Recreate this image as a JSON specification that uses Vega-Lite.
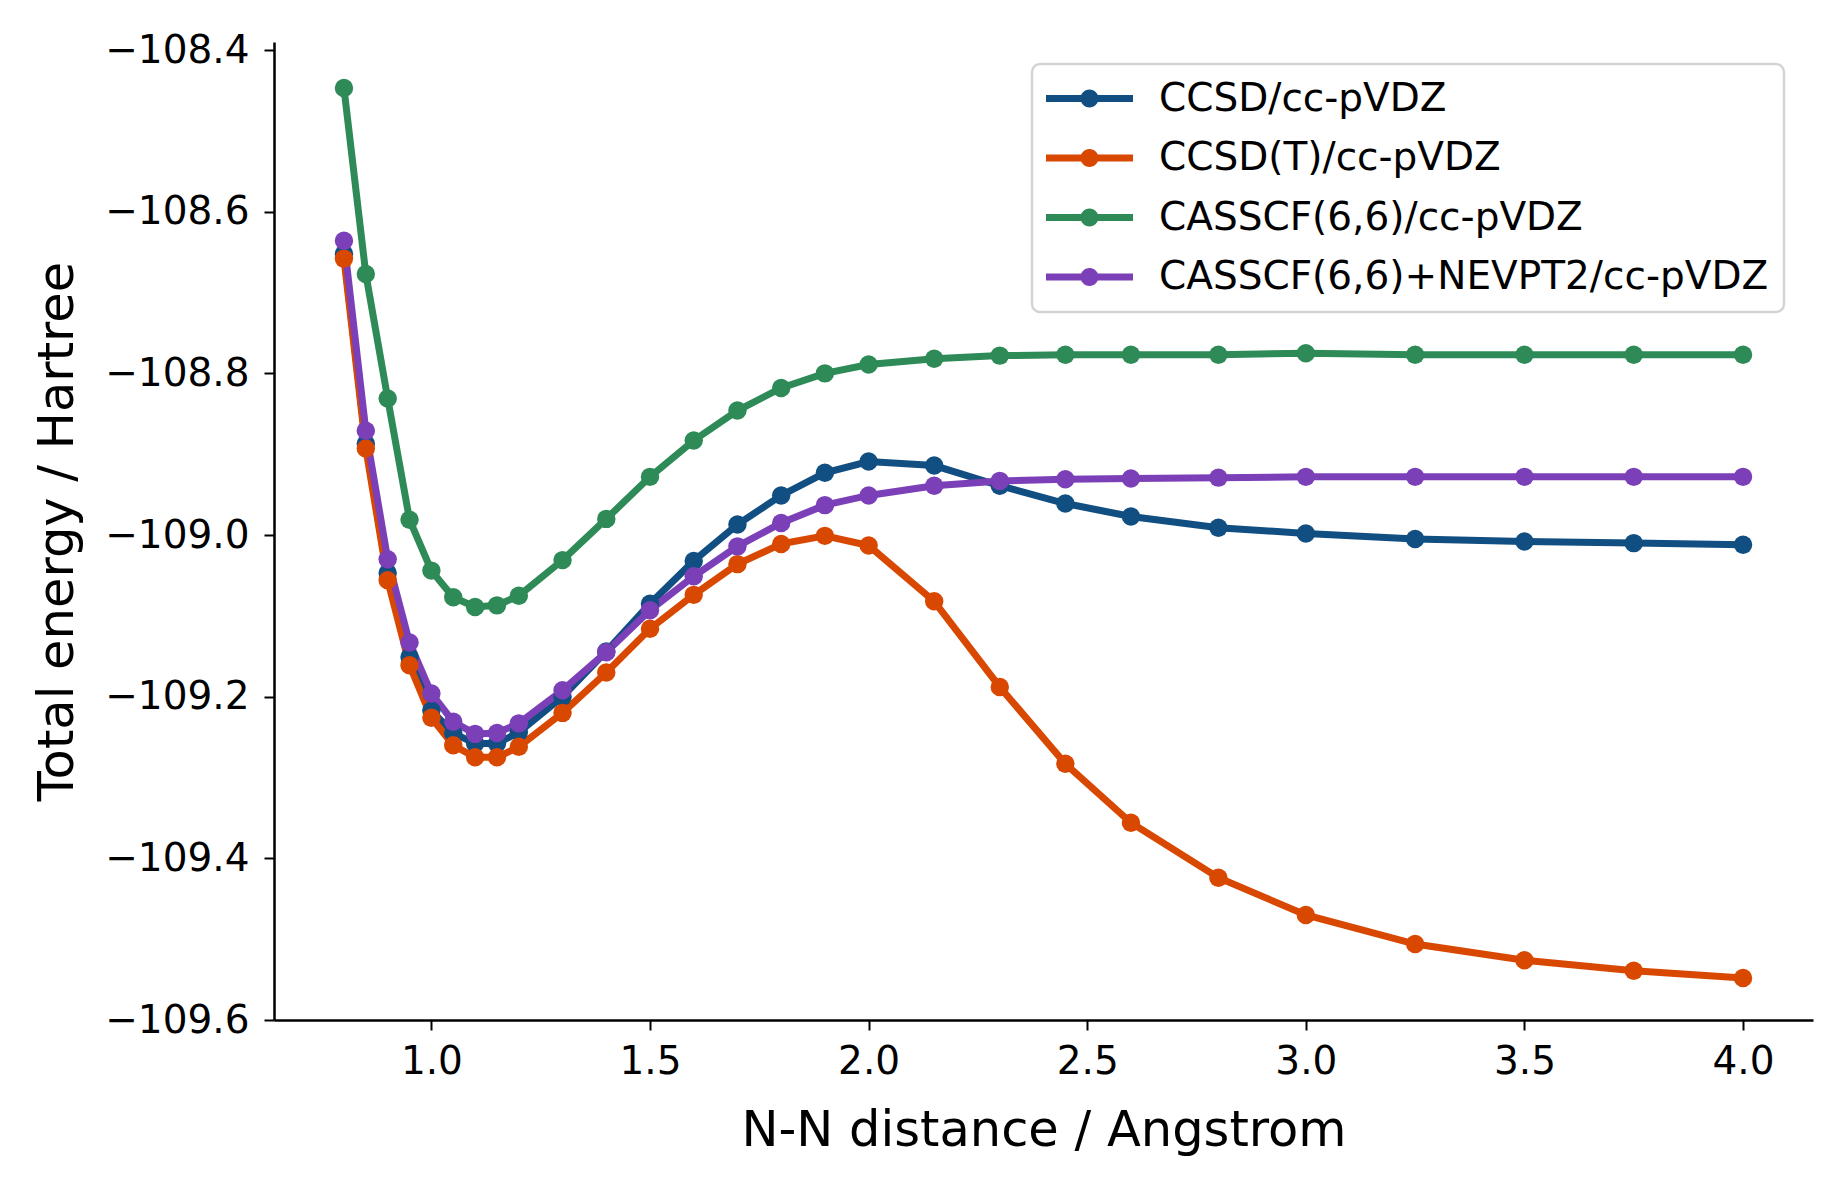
{
  "$schema": "https://vega.github.io/schema/vega-lite/v6.json",
  "width": 1539,
  "height": 978,
  "autosize": {"type": "none"},
  "padding": {"left": 274, "top": 42, "right": 35, "bottom": 168},
  "background": "white",
  "config": {
    "view": {"stroke": null},
    "font": "DejaVu Sans",
    "axis": {
      "labelFont": "DejaVu Sans",
      "titleFont": "DejaVu Sans",
      "labelFontSize": 39,
      "titleFontSize": 49.5,
      "titleFontWeight": "normal",
      "labelColor": "black",
      "titleColor": "black",
      "domainColor": "black",
      "domainWidth": 2.5,
      "tickColor": "black",
      "tickWidth": 2,
      "tickSize": 10,
      "grid": false
    },
    "legend": {
      "labelFont": "DejaVu Sans",
      "labelFontSize": 39,
      "labelColor": "black"
    }
  },
  "data": {
    "values": [
      {"d": 0.8, "E": -108.652, "m": "CCSD/cc-pVDZ"},
      {"d": 0.85, "E": -108.887, "m": "CCSD/cc-pVDZ"},
      {"d": 0.9, "E": -109.047, "m": "CCSD/cc-pVDZ"},
      {"d": 0.95, "E": -109.151, "m": "CCSD/cc-pVDZ"},
      {"d": 1.0, "E": -109.217, "m": "CCSD/cc-pVDZ"},
      {"d": 1.05, "E": -109.245, "m": "CCSD/cc-pVDZ"},
      {"d": 1.1, "E": -109.258, "m": "CCSD/cc-pVDZ"},
      {"d": 1.15, "E": -109.258, "m": "CCSD/cc-pVDZ"},
      {"d": 1.2, "E": -109.244, "m": "CCSD/cc-pVDZ"},
      {"d": 1.3, "E": -109.2, "m": "CCSD/cc-pVDZ"},
      {"d": 1.4, "E": -109.144, "m": "CCSD/cc-pVDZ"},
      {"d": 1.5, "E": -109.085, "m": "CCSD/cc-pVDZ"},
      {"d": 1.6, "E": -109.032, "m": "CCSD/cc-pVDZ"},
      {"d": 1.7, "E": -108.987, "m": "CCSD/cc-pVDZ"},
      {"d": 1.8, "E": -108.951, "m": "CCSD/cc-pVDZ"},
      {"d": 1.9, "E": -108.923, "m": "CCSD/cc-pVDZ"},
      {"d": 2.0, "E": -108.909, "m": "CCSD/cc-pVDZ"},
      {"d": 2.15, "E": -108.914, "m": "CCSD/cc-pVDZ"},
      {"d": 2.3, "E": -108.939, "m": "CCSD/cc-pVDZ"},
      {"d": 2.45, "E": -108.961, "m": "CCSD/cc-pVDZ"},
      {"d": 2.6, "E": -108.977, "m": "CCSD/cc-pVDZ"},
      {"d": 2.8, "E": -108.991, "m": "CCSD/cc-pVDZ"},
      {"d": 3.0, "E": -108.998, "m": "CCSD/cc-pVDZ"},
      {"d": 3.25, "E": -109.005, "m": "CCSD/cc-pVDZ"},
      {"d": 3.5, "E": -109.008, "m": "CCSD/cc-pVDZ"},
      {"d": 3.75, "E": -109.01, "m": "CCSD/cc-pVDZ"},
      {"d": 4.0, "E": -109.012, "m": "CCSD/cc-pVDZ"},
      {"d": 0.8, "E": -108.658, "m": "CCSD(T)/cc-pVDZ"},
      {"d": 0.85, "E": -108.893, "m": "CCSD(T)/cc-pVDZ"},
      {"d": 0.9, "E": -109.056, "m": "CCSD(T)/cc-pVDZ"},
      {"d": 0.95, "E": -109.161, "m": "CCSD(T)/cc-pVDZ"},
      {"d": 1.0, "E": -109.226, "m": "CCSD(T)/cc-pVDZ"},
      {"d": 1.05, "E": -109.26, "m": "CCSD(T)/cc-pVDZ"},
      {"d": 1.1, "E": -109.275, "m": "CCSD(T)/cc-pVDZ"},
      {"d": 1.15, "E": -109.275, "m": "CCSD(T)/cc-pVDZ"},
      {"d": 1.2, "E": -109.262, "m": "CCSD(T)/cc-pVDZ"},
      {"d": 1.3, "E": -109.22, "m": "CCSD(T)/cc-pVDZ"},
      {"d": 1.4, "E": -109.17, "m": "CCSD(T)/cc-pVDZ"},
      {"d": 1.5, "E": -109.116, "m": "CCSD(T)/cc-pVDZ"},
      {"d": 1.6, "E": -109.074, "m": "CCSD(T)/cc-pVDZ"},
      {"d": 1.7, "E": -109.036, "m": "CCSD(T)/cc-pVDZ"},
      {"d": 1.8, "E": -109.011, "m": "CCSD(T)/cc-pVDZ"},
      {"d": 1.9, "E": -109.001, "m": "CCSD(T)/cc-pVDZ"},
      {"d": 2.0, "E": -109.013, "m": "CCSD(T)/cc-pVDZ"},
      {"d": 2.15, "E": -109.082, "m": "CCSD(T)/cc-pVDZ"},
      {"d": 2.3, "E": -109.188, "m": "CCSD(T)/cc-pVDZ"},
      {"d": 2.45, "E": -109.283, "m": "CCSD(T)/cc-pVDZ"},
      {"d": 2.6, "E": -109.356, "m": "CCSD(T)/cc-pVDZ"},
      {"d": 2.8, "E": -109.424, "m": "CCSD(T)/cc-pVDZ"},
      {"d": 3.0, "E": -109.47, "m": "CCSD(T)/cc-pVDZ"},
      {"d": 3.25, "E": -109.506, "m": "CCSD(T)/cc-pVDZ"},
      {"d": 3.5, "E": -109.526, "m": "CCSD(T)/cc-pVDZ"},
      {"d": 3.75, "E": -109.539, "m": "CCSD(T)/cc-pVDZ"},
      {"d": 4.0, "E": -109.548, "m": "CCSD(T)/cc-pVDZ"},
      {"d": 0.8, "E": -108.447, "m": "CASSCF(6,6)/cc-pVDZ"},
      {"d": 0.85, "E": -108.677, "m": "CASSCF(6,6)/cc-pVDZ"},
      {"d": 0.9, "E": -108.831, "m": "CASSCF(6,6)/cc-pVDZ"},
      {"d": 0.95, "E": -108.981, "m": "CASSCF(6,6)/cc-pVDZ"},
      {"d": 1.0, "E": -109.044, "m": "CASSCF(6,6)/cc-pVDZ"},
      {"d": 1.05, "E": -109.077, "m": "CASSCF(6,6)/cc-pVDZ"},
      {"d": 1.1, "E": -109.089, "m": "CASSCF(6,6)/cc-pVDZ"},
      {"d": 1.15, "E": -109.087, "m": "CASSCF(6,6)/cc-pVDZ"},
      {"d": 1.2, "E": -109.075, "m": "CASSCF(6,6)/cc-pVDZ"},
      {"d": 1.3, "E": -109.031, "m": "CASSCF(6,6)/cc-pVDZ"},
      {"d": 1.4, "E": -108.98, "m": "CASSCF(6,6)/cc-pVDZ"},
      {"d": 1.5, "E": -108.928, "m": "CASSCF(6,6)/cc-pVDZ"},
      {"d": 1.6, "E": -108.883, "m": "CASSCF(6,6)/cc-pVDZ"},
      {"d": 1.7, "E": -108.846, "m": "CASSCF(6,6)/cc-pVDZ"},
      {"d": 1.8, "E": -108.818, "m": "CASSCF(6,6)/cc-pVDZ"},
      {"d": 1.9, "E": -108.8, "m": "CASSCF(6,6)/cc-pVDZ"},
      {"d": 2.0, "E": -108.789, "m": "CASSCF(6,6)/cc-pVDZ"},
      {"d": 2.15, "E": -108.782, "m": "CASSCF(6,6)/cc-pVDZ"},
      {"d": 2.3, "E": -108.778, "m": "CASSCF(6,6)/cc-pVDZ"},
      {"d": 2.45, "E": -108.777, "m": "CASSCF(6,6)/cc-pVDZ"},
      {"d": 2.6, "E": -108.777, "m": "CASSCF(6,6)/cc-pVDZ"},
      {"d": 2.8, "E": -108.777, "m": "CASSCF(6,6)/cc-pVDZ"},
      {"d": 3.0, "E": -108.775, "m": "CASSCF(6,6)/cc-pVDZ"},
      {"d": 3.25, "E": -108.777, "m": "CASSCF(6,6)/cc-pVDZ"},
      {"d": 3.5, "E": -108.777, "m": "CASSCF(6,6)/cc-pVDZ"},
      {"d": 3.75, "E": -108.777, "m": "CASSCF(6,6)/cc-pVDZ"},
      {"d": 4.0, "E": -108.777, "m": "CASSCF(6,6)/cc-pVDZ"},
      {"d": 0.8, "E": -108.636, "m": "CASSCF(6,6)+NEVPT2/cc-pVDZ"},
      {"d": 0.85, "E": -108.871, "m": "CASSCF(6,6)+NEVPT2/cc-pVDZ"},
      {"d": 0.9, "E": -109.03, "m": "CASSCF(6,6)+NEVPT2/cc-pVDZ"},
      {"d": 0.95, "E": -109.133, "m": "CASSCF(6,6)+NEVPT2/cc-pVDZ"},
      {"d": 1.0, "E": -109.196, "m": "CASSCF(6,6)+NEVPT2/cc-pVDZ"},
      {"d": 1.05, "E": -109.231, "m": "CASSCF(6,6)+NEVPT2/cc-pVDZ"},
      {"d": 1.1, "E": -109.246, "m": "CASSCF(6,6)+NEVPT2/cc-pVDZ"},
      {"d": 1.15, "E": -109.245, "m": "CASSCF(6,6)+NEVPT2/cc-pVDZ"},
      {"d": 1.2, "E": -109.233, "m": "CASSCF(6,6)+NEVPT2/cc-pVDZ"},
      {"d": 1.3, "E": -109.192, "m": "CASSCF(6,6)+NEVPT2/cc-pVDZ"},
      {"d": 1.4, "E": -109.145, "m": "CASSCF(6,6)+NEVPT2/cc-pVDZ"},
      {"d": 1.5, "E": -109.093, "m": "CASSCF(6,6)+NEVPT2/cc-pVDZ"},
      {"d": 1.6, "E": -109.051, "m": "CASSCF(6,6)+NEVPT2/cc-pVDZ"},
      {"d": 1.7, "E": -109.014, "m": "CASSCF(6,6)+NEVPT2/cc-pVDZ"},
      {"d": 1.8, "E": -108.985, "m": "CASSCF(6,6)+NEVPT2/cc-pVDZ"},
      {"d": 1.9, "E": -108.963, "m": "CASSCF(6,6)+NEVPT2/cc-pVDZ"},
      {"d": 2.0, "E": -108.951, "m": "CASSCF(6,6)+NEVPT2/cc-pVDZ"},
      {"d": 2.15, "E": -108.939, "m": "CASSCF(6,6)+NEVPT2/cc-pVDZ"},
      {"d": 2.3, "E": -108.933, "m": "CASSCF(6,6)+NEVPT2/cc-pVDZ"},
      {"d": 2.45, "E": -108.931, "m": "CASSCF(6,6)+NEVPT2/cc-pVDZ"},
      {"d": 2.6, "E": -108.93, "m": "CASSCF(6,6)+NEVPT2/cc-pVDZ"},
      {"d": 2.8, "E": -108.929, "m": "CASSCF(6,6)+NEVPT2/cc-pVDZ"},
      {"d": 3.0, "E": -108.928, "m": "CASSCF(6,6)+NEVPT2/cc-pVDZ"},
      {"d": 3.25, "E": -108.928, "m": "CASSCF(6,6)+NEVPT2/cc-pVDZ"},
      {"d": 3.5, "E": -108.928, "m": "CASSCF(6,6)+NEVPT2/cc-pVDZ"},
      {"d": 3.75, "E": -108.928, "m": "CASSCF(6,6)+NEVPT2/cc-pVDZ"},
      {"d": 4.0, "E": -108.928, "m": "CASSCF(6,6)+NEVPT2/cc-pVDZ"}
    ]
  },
  "mark": {
    "type": "line",
    "strokeWidth": 7,
    "point": {"filled": true, "size": 340, "opacity": 1}
  },
  "encoding": {
    "x": {
      "field": "d",
      "type": "quantitative",
      "scale": {"domain": [0.64, 4.16], "nice": false, "zero": false},
      "axis": {
        "title": "N-N distance / Angstrom",
        "values": [1.0, 1.5, 2.0, 2.5, 3.0, 3.5, 4.0],
        "format": ".1f",
        "labelBaseline": "alphabetic",
        "labelPadding": 43,
        "labelFlush": false,
        "titleBaseline": "alphabetic",
        "titleY": 125,
        "titleX": 769.5,
        "titleAnchor": "middle"
      }
    },
    "y": {
      "field": "E",
      "type": "quantitative",
      "scale": {"domain": [-109.6, -108.39], "nice": false, "zero": false},
      "axis": {
        "title": "Total energy / Hartree",
        "values": [-109.6, -109.4, -109.2, -109.0, -108.8, -108.6, -108.4],
        "format": ".1f",
        "labelPadding": 15,
        "labelFlush": false,
        "titleAngle": -90,
        "titleBaseline": "alphabetic",
        "titleX": -202,
        "titleY": 489,
        "titleAnchor": "middle",
        "titleAlign": "center"
      }
    },
    "color": {
      "field": "m",
      "type": "nominal",
      "sort": ["CCSD/cc-pVDZ", "CCSD(T)/cc-pVDZ", "CASSCF(6,6)/cc-pVDZ", "CASSCF(6,6)+NEVPT2/cc-pVDZ"],
      "scale": {
        "domain": ["CCSD/cc-pVDZ", "CCSD(T)/cc-pVDZ", "CASSCF(6,6)/cc-pVDZ", "CASSCF(6,6)+NEVPT2/cc-pVDZ"],
        "range": ["#114e81", "#d94801", "#2e8b57", "#7b3fb8"]
      },
      "legend": {
        "title": null,
        "orient": "none",
        "legendX": 758,
        "legendY": 22,
        "padding": 15,
        "fillColor": "white",
        "strokeColor": "#d4d4d4",
        "cornerRadius": 8,
        "symbolType": "M-2.231,-0.18 L2.231,-0.18 L2.231,0.18 L-2.231,0.18 Z M0.4615,0 A0.4615,0.4615 0 1,1 -0.4615,0 A0.4615,0.4615 0 1,1 0.4615,0 Z",
        "symbolSize": 1521,
        "symbolStrokeWidth": 0,
        "symbolOffset": 23,
        "labelOffset": 50,
        "labelLimit": 1000,
        "rowPadding": 19.5,
        "labelBaseline": "middle",
        "encode": {
          "legend": {
            "update": {
              "strokeWidth": {"value": 2.5}
            }
          },
          "symbols": {
            "update": {
              "fill": {"scale": "color", "field": "value"},
              "stroke": {"value": "transparent"},
              "strokeWidth": {"value": 0},
              "opacity": {"value": 1}
            }
          }
        }
      }
    }
  }
}
